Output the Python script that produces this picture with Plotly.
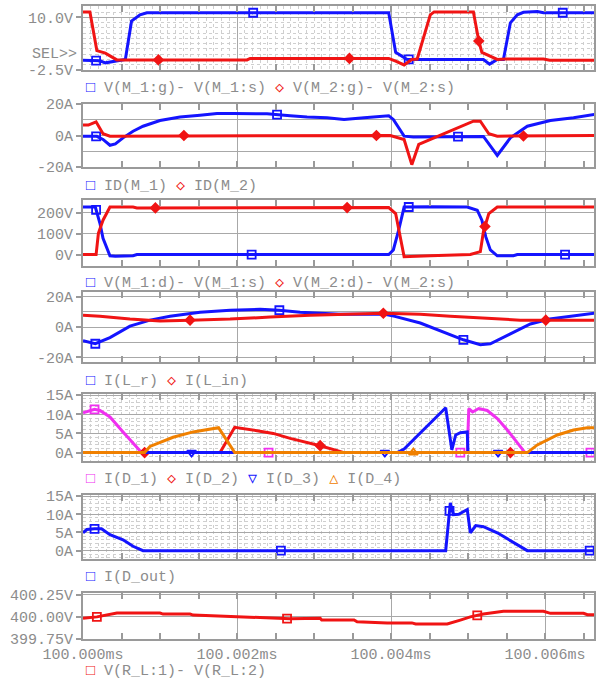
import numpy as np
import plotly.graph_objects as go

# ---------------- data (time in microseconds after 100.000 ms) ----------------
t_tick_vals = [0, 2, 4, 6]
t_tick_text = ["100.000ms", "100.002ms", "100.004ms", "100.006ms"]
t_range = [0, 6.636]

# Panel 1: gate-source voltages (V)
p1_m1_t = [0, 0.22, 0.29, 0.44, 0.55, 0.63, 0.74, 0.83, 3.97, 4.06, 4.12, 4.21, 5.20, 5.28, 5.38, 5.46, 5.55, 5.64, 5.72, 5.90, 5.98, 6.64]
p1_m1_v = [-0.2, -0.3, -0.8, -0.3, 0.0, 9.1, 10.6, 11.1, 11.1, 1.7, 1.0, 0.0, 0.0, -1.1, 0.0, 0.0, 8.7, 10.6, 11.2, 11.4, 11.1, 11.1]
p1_m2_t = [0, 0.09, 0.18, 0.29, 0.44, 2.13, 2.17, 3.97, 4.06, 4.17, 4.27, 4.34, 4.51, 4.56, 5.07, 5.14, 5.18, 5.27, 5.38, 5.48, 5.98, 6.06, 6.64]
p1_m2_v = [11.3, 11.3, 2.1, 1.5, -0.1, -0.1, 0.25, 0.25, -0.4, -1.3, 0.0, 0.1, 10.6, 11.3, 11.3, 4.4, 1.7, 1.0, 0.0, 0.1, 0.1, -0.2, -0.2]
p1_m1_mk = [0.17, 2.21, 4.23, 6.23]
p1_m2_mk = [0.98, 3.46, 5.14]

# Panel 2: drain currents (A)
p2_m1_t = [0, 0.18, 0.26, 0.35, 0.42, 0.52, 0.65, 0.78, 1.0, 1.26, 1.52, 1.74, 1.95, 2.39, 2.69, 2.91, 3.17, 3.39, 3.65, 3.97, 4.03, 4.17, 4.29, 5.20, 5.38, 5.55, 5.77, 5.98, 6.07, 6.37, 6.59, 6.64]
p2_m1_i = [-0.5, -0.5, -2.5, -6.2, -5.3, -1.5, 2.7, 5.9, 9.5, 11.7, 12.9, 14.0, 14.0, 13.8, 12.5, 11.7, 11.3, 10.2, 11.3, 12.5, 10.2, -0.4, -0.9, -0.6, -12.7, -1.5, 5.9, 8.1, 9.5, 11.3, 13.4, 13.4]
p2_m2_t = [0, 0.07, 0.17, 0.26, 0.35, 0.52, 0.65, 3.99, 4.17, 4.27, 4.36, 5.07, 5.16, 5.27, 5.38, 6.64]
p2_m2_i = [6.6, 6.6, 8.7, 1.1, -0.4, -0.4, 0.0, 0.0, -2.5, -18.5, -5.7, 9.1, 9.1, 1.1, -0.4, 0.0]
p2_m1_mk = [0.17, 2.52, 4.87]
p2_m2_mk = [1.31, 3.81, 5.72]

# Panel 3: drain-source voltages (V)
p3_m1_t = [0, 0.16, 0.22, 0.26, 0.35, 0.42, 0.65, 0.70, 3.97, 4.03, 4.10, 4.17, 4.51, 4.99, 5.12, 5.18, 5.23, 5.29, 5.38, 5.59, 5.64, 6.64]
p3_m1_v = [228, 228, 150, 78, -6, -8, -6, 0, 0, 22, 118, 228, 230, 228, 213, 165, 86, 22, -6, -6, 0, 0]
p3_m2_t = [0, 0.17, 0.20, 0.26, 0.35, 0.65, 0.70, 3.97, 4.06, 4.12, 4.17, 4.51, 5.03, 5.16, 5.20, 5.27, 5.38, 6.64]
p3_m2_v = [0, 0, 102, 165, 228, 228, 224, 226, 197, 86, -10, -6, 0, 14, 110, 197, 228, 228]
p3_m1_mk = [0.17, 2.19, 4.23, 6.26]
p3_m2_mk = [0.94, 3.43, 5.22]

# Panel 4: inductor currents (A)
p4_lr_t = [0, 0.16, 0.35, 0.61, 0.87, 1.13, 1.52, 1.91, 2.30, 2.55, 2.82, 3.34, 3.92, 4.05, 4.38, 4.64, 4.94, 5.16, 5.29, 5.55, 5.81, 6.06, 6.32, 6.64]
p4_lr_i = [-9, -11, -7, 0.6, 4.5, 7, 9.7, 11, 11.6, 11, 9.7, 8.4, 8.4, 7, 2.6, -2.6, -8.4, -11.6, -11, -4.5, 2, 5.2, 7, 9]
p4_lin_t = [0, 0.22, 0.61, 1.0, 1.39, 1.91, 2.43, 2.95, 3.90, 4.38, 4.77, 5.29, 5.68, 6.64]
p4_lin_i = [7.7, 7, 5.2, 3.9, 4.5, 5.2, 6.5, 7.7, 9, 8.4, 7, 5.8, 4.5, 4.5]
p4_lr_mk = [0.16, 2.55, 4.94]
p4_lin_mk = [1.39, 3.90, 6.01]

# Panel 5: diode currents (A)
p5_d1_t = [0, 0.07, 0.15, 0.22, 0.35, 0.52, 0.65, 0.76, 4.99, 5.01, 5.06, 5.14, 5.25, 5.38, 5.51, 5.64, 5.74, 6.64]
p5_d1_i = [10.4, 10.9, 11.3, 11.0, 9.3, 5.4, 2.4, 0, 0, 11.5, 10.6, 11.5, 11.0, 8.9, 5.9, 2.4, 0, 0]
p5_d2_t = [0, 1.78, 1.97, 2.13, 2.26, 2.47, 2.69, 3.08, 3.34, 3.39, 6.64]
p5_d2_i = [0, 0, 6.6, 6.0, 5.7, 5.0, 3.7, 1.8, 0.4, 0, 0]
p5_d3_t = [0, 4.08, 4.17, 4.71, 4.79, 4.84, 4.90, 4.99, 5.0, 6.64]
p5_d3_i = [0, 0, 0.9, 11.7, 0.7, 4.6, 5.2, 5.4, 0, 0]
p5_d4_t = [0, 0.80, 0.87, 1.17, 1.43, 1.76, 1.97, 5.77, 5.90, 6.16, 6.37, 6.55, 6.64]
p5_d4_i = [0, 0, 1.6, 4.0, 5.4, 6.5, 0, 0, 2.0, 4.6, 5.9, 6.5, 6.5]
p5_d1_mk = [0.15, 2.41, 4.90, 6.59]
p5_d2_mk = [0.80, 3.08, 5.55]
p5_d3_mk = [1.41, 3.92, 5.39]
p5_d4_mk = [4.29]

# Panel 6: output diode current (A)
p6_t = [0, 0.05, 0.15, 0.24, 0.35, 0.52, 0.65, 0.78, 4.71, 4.77, 4.81, 4.88, 4.99, 5.03, 5.10, 5.20, 5.38, 5.55, 5.77, 6.64]
p6_i = [4.9, 5.8, 6.0, 6.0, 4.4, 3.0, 1.2, 0, 0, 13.1, 9.9, 10.0, 11.3, 4.9, 6.9, 6.6, 4.9, 2.8, 0, 0]
p6_mk = [0.15, 2.57, 4.76, 6.58]

# Panel 7: load voltage (V)
p7_t = [0, 0.18, 0.44, 1.0, 1.04, 1.39, 1.43, 1.95, 2.34, 2.39, 2.69, 3.08, 3.10, 3.52, 3.56, 3.95, 4.27, 4.32, 4.73, 4.90, 5.03, 5.20, 5.46, 5.98, 6.07, 6.50, 6.55, 6.64]
p7_v = [399.985, 400.0, 400.044, 400.044, 400.032, 400.032, 400.02, 400.004, 399.99, 399.985, 399.98, 399.985, 399.964, 399.964, 399.944, 399.932, 399.932, 399.92, 399.92, 399.964, 400.0, 400.032, 400.063, 400.063, 400.04, 400.04, 400.024, 400.024]
p7_mk = [0.18, 2.65, 5.12]

# y ticks
p1_ticks = ([-2.5, 10], ["-2.5V", "10.0V"])
p2_ticks = ([-20, 0, 20], ["-20A", "0A", "20A"])
p3_ticks = ([0, 100, 200], ["0V", "100V", "200V"])
p4_ticks = ([-20, 0, 20], ["-20A", "0A", "20A"])
p5_ticks = ([0, 5, 10, 15], ["0A", "5A", "10A", "15A"])
p6_ticks = ([0, 5, 10, 15], ["0A", "5A", "10A", "15A"])
p7_ticks = ([399.75, 400.0, 400.25], ["399.75V", "400.00V", "400.25V"])

legend_texts = [
    [("□", "blue", "V(M_1:g)- V(M_1:s)"), ("◇", "red", "V(M_2:g)- V(M_2:s)")],
    [("□", "blue", "ID(M_1)"), ("◇", "red", "ID(M_2)")],
    [("□", "blue", "V(M_1:d)- V(M_1:s)"), ("◇", "red", "V(M_2:d)- V(M_2:s)")],
    [("□", "blue", "I(L_r)"), ("◇", "red", "I(L_in)")],
    [("□", "magenta", "I(D_1)"), ("◇", "red", "I(D_2)"), ("▽", "blue", "I(D_3)"), ("△", "orange", "I(D_4)")],
    [("□", "blue", "I(D_out)")],
    [("□", "red", "V(R_L:1)- V(R_L:2)")],
]

# ---------------- styling ----------------
W, H = 597, 681
COL = {"blue": "#1414ff", "red": "#f01414", "magenta": "#f030f0", "orange": "#f08000"}
FONT = "Liberation Mono, DejaVu Sans Mono, monospace"
TXT = "#8c8c8c"
FRAME = "#9a9a9a"
GRID = "#a8a8a8"
DOT = "#cfcfcf"
ML, MR = 83, 3
panel_px = [(6, 70), (104, 167), (200, 266), (292, 362), (394, 461), (495, 559), (593, 639)]
legend_px = [88, 186, 283, 381, 479, 577, 671]
y_ranges = [[-2.5, 12.7], [-20, 20], [-55, 262], [-23, 23], [-2.2, 15.3], [-2.3, 15.3], [399.75, 400.27]]
y_ticks = [p1_ticks, p2_ticks, p3_ticks, p4_ticks, p5_ticks, p6_ticks, p7_ticks]
dotted = {1: 1.25, 5: 1.0, 6: 1.0}
solid_minor = {2: 10, 4: 10}

fig = go.Figure()


def ax(i):
    return ("x" if i == 1 else f"x{i}"), ("y" if i == 1 else f"y{i}")


def add(i, t, v, color, sym, mk, size=8):
    xa, ya = ax(i)
    fig.add_trace(go.Scatter(x=t, y=v, mode="lines", line=dict(color=COL[color], width=3),
                             xaxis=xa, yaxis=ya, showlegend=False, hoverinfo="skip"))
    fig.add_trace(go.Scatter(x=mk, y=np.interp(mk, t, v), mode="markers",
                             marker=dict(symbol=sym, size=size, color=COL[color],
                                         line=dict(color=COL[color], width=1.8)),
                             xaxis=xa, yaxis=ya, showlegend=False, hoverinfo="skip"))


add(1, p1_m1_t, p1_m1_v, "blue", "square-open", p1_m1_mk)
add(1, p1_m2_t, p1_m2_v, "red", "diamond", p1_m2_mk, 7)
add(2, p2_m1_t, p2_m1_i, "blue", "square-open", p2_m1_mk)
add(2, p2_m2_t, p2_m2_i, "red", "diamond", p2_m2_mk, 7)
add(3, p3_m1_t, p3_m1_v, "blue", "square-open", p3_m1_mk)
add(3, p3_m2_t, p3_m2_v, "red", "diamond", p3_m2_mk, 7)
add(4, p4_lr_t, p4_lr_i, "blue", "square-open", p4_lr_mk)
add(4, p4_lin_t, p4_lin_i, "red", "diamond", p4_lin_mk, 7)
add(5, p5_d1_t, p5_d1_i, "magenta", "square-open", p5_d1_mk)
add(5, p5_d2_t, p5_d2_i, "red", "diamond", p5_d2_mk, 7)
add(5, p5_d3_t, p5_d3_i, "blue", "triangle-down-open", p5_d3_mk, 8)
add(5, p5_d4_t, p5_d4_i, "orange", "triangle-up-open", p5_d4_mk, 8)
add(6, p6_t, p6_i, "blue", "square-open", p6_mk)
add(7, p7_t, p7_v, "red", "square-open", p7_mk)

PW = W - ML - MR
layout = {}
annotations = []
for i in range(1, 8):
    top, bot = panel_px[i - 1]
    xdom = [0, 1]
    ydom = [1 - bot / H, 1 - top / H]
    xa, ya = ax(i)
    xkey = "xaxis" if i == 1 else f"xaxis{i}"
    ykey = "yaxis" if i == 1 else f"yaxis{i}"
    xd = dict(domain=xdom, anchor=ya, range=t_range, tickvals=t_tick_vals, ticktext=t_tick_text,
              showticklabels=(i == 7), ticks="", showgrid=True, gridcolor=GRID, gridwidth=1,
              showline=True, linecolor=FRAME, linewidth=2, mirror=True, zeroline=False,
              automargin=False, tickfont=dict(family=FONT, size=15, color=TXT))
    if i != 1:
        xd["matches"] = "x"
    if i in dotted:
        xd["minor"] = dict(dtick=0.1, showgrid=True, gridcolor=DOT, griddash="dot", gridwidth=1, ticks="")
    layout[xkey] = xd
    yv, yt = y_ticks[i - 1]
    yd = dict(domain=ydom, anchor=xa, range=y_ranges[i - 1], tickvals=yv, ticktext=yt,
              ticks="outside", ticklen=5, tickcolor=FRAME, tickwidth=1.5,
              showgrid=True, gridcolor=GRID, gridwidth=1, zeroline=False,
              showline=True, linecolor=FRAME, linewidth=2, mirror=True, automargin=False,
              tickfont=dict(family=FONT, size=15, color=TXT))
    if i in dotted:
        yd["minor"] = dict(tick0=y_ranges[i - 1][0] if i == 1 else 0, dtick=dotted[i], showgrid=True,
                           gridcolor=DOT, griddash="dot", gridwidth=1, ticks="")
    if i in solid_minor:
        yd["minor"] = dict(dtick=solid_minor[i], showgrid=True, gridcolor=GRID, gridwidth=1, ticks="")
    layout[ykey] = yd
    # overlay axis for inside minor tick marks every 0.5 us
    oi = 7 + i
    layout[f"xaxis{oi}"] = dict(domain=xdom, anchor=ya, overlaying=xa, range=t_range,
                                tickvals=list(np.arange(0, 6.6, 0.5)), showticklabels=False,
                                ticks="inside", ticklen=6, tickcolor=FRAME, tickwidth=1.5,
                                showgrid=False, zeroline=False, showline=True, linecolor=FRAME,
                                linewidth=2, mirror="ticks", automargin=False)
    fig.add_trace(go.Scatter(x=[None], y=[None], xaxis=f"x{oi}", yaxis=ya, showlegend=False,
                             hoverinfo="skip"))
    # legend-like caption
    parts = []
    for sym, c, label in legend_texts[i - 1]:
        parts.append(f"<span style='color:{COL[c]}'>{sym}</span>\u00a0{label}")
    annotations.append(dict(xref="paper", yref="paper", x=1 / PW, y=1 - legend_px[i - 1] / H,
                            xanchor="left", yanchor="middle", showarrow=False,
                            text="\u00a0".join(parts), font=dict(family=FONT, size=15, color=TXT)))

annotations.append(dict(xref="paper", yref="y", x=-4 / PW, y=1.1, xanchor="right", yanchor="middle",
                        showarrow=False, text="SEL&gt;&gt;", font=dict(family=FONT, size=15, color=TXT)))

fig.update_layout(**layout)
fig.update_layout(width=W, height=H, margin=dict(l=ML, r=MR, t=0, b=0, autoexpand=False),
                  paper_bgcolor="white", plot_bgcolor="white", annotations=annotations,
                  showlegend=False)

fig.write_html("out.html")
